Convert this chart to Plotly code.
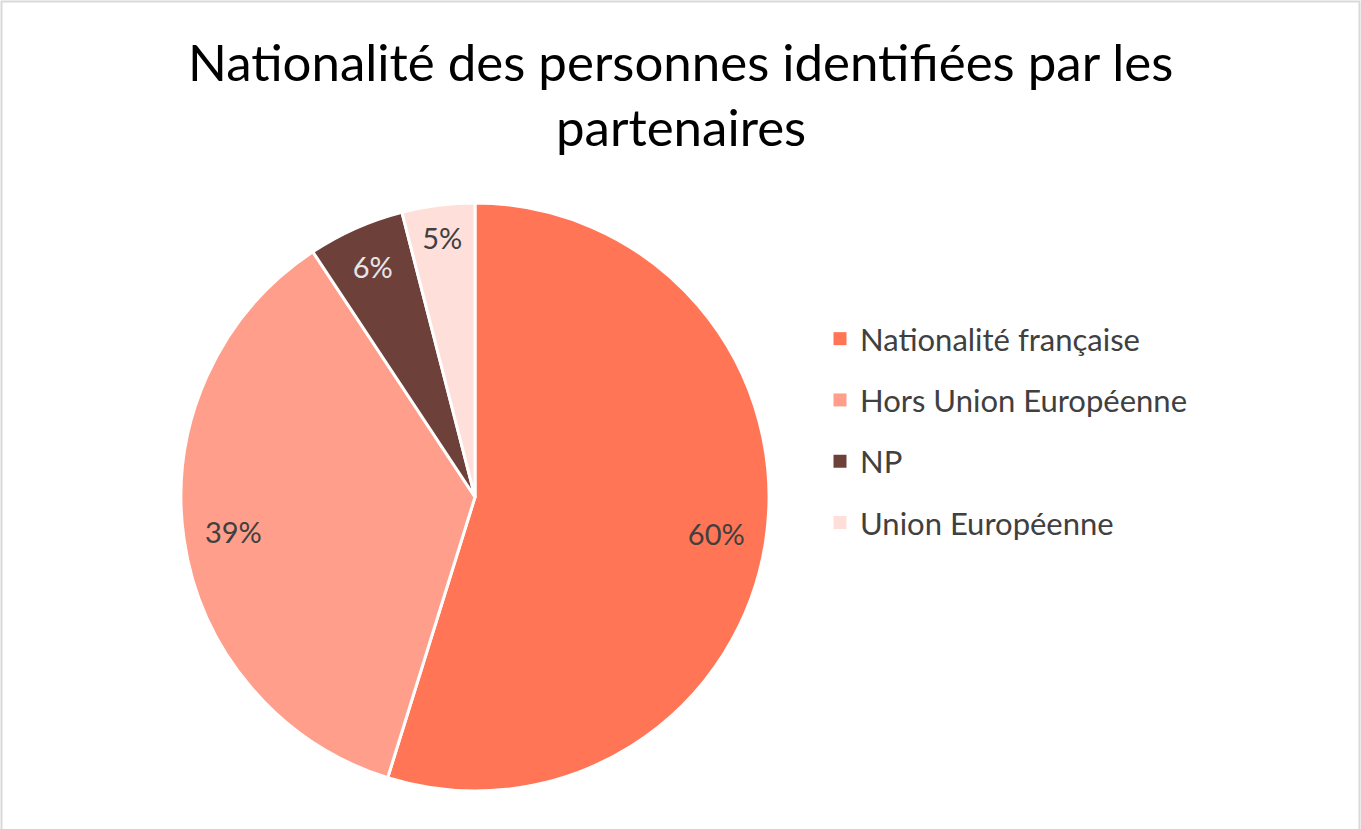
import plotly.graph_objects as go

categories = ["Nationalité française", "Hors Union Européenne", "NP", "Union Européenne"]
# slice sizes as drawn (share of the circle, %)
values = [54.8, 35.9, 5.3, 4.0]
# data labels as printed on the chart
labels_text = ["60%", "39%", "6%", "5%"]
colors = ["#FF7556", "#FF9F8B", "#6E403A", "#FFDFDA"]
text_colors = ["#404040", "#404040", "#E7E6E6", "#404040"]

title_line1 = "Nationalité des personnes identifiées par les"
title_line2 = "partenaires"

FONT = "Lato"
W, H = 1361, 829
pie_domain = dict(x=[(475 - 294) / W, (475 + 294) / W], y=[1 - 791 / H, 1 - 203 / H])

fig = go.Figure()

# slices
fig.add_trace(go.Pie(
    labels=categories, values=values,
    textinfo="none",
    marker=dict(colors=colors, line=dict(color="white", width=3)),
    sort=False, direction="clockwise", rotation=0,
    showlegend=False, hoverinfo="label+text", text=labels_text,
    domain=pie_domain,
))

# data labels placed in an outer ring (transparent overlay)
fig.add_trace(go.Pie(
    labels=categories, values=values,
    text=labels_text, textinfo="text", texttemplate="%{text}",
    textposition="inside", insidetextorientation="horizontal",
    textfont=dict(family=FONT, size=29, color=text_colors),
    marker=dict(colors=["rgba(0,0,0,0)"] * len(values), line=dict(width=0)),
    hole=0.66,
    sort=False, direction="clockwise", rotation=0,
    showlegend=False, hoverinfo="skip",
    domain=pie_domain,
))

for cat, col in zip(categories, colors):
    fig.add_trace(go.Scatter(
        x=[None], y=[None], mode="markers",
        marker=dict(symbol="square", size=13, color=col),
        name=cat, legendgroup=cat, showlegend=True,
    ))

fig.update_layout(
    width=W, height=H,
    margin=dict(l=0, r=0, t=0, b=0),
    paper_bgcolor="white", plot_bgcolor="white",
    xaxis=dict(visible=False), yaxis=dict(visible=False),
    legend=dict(
        x=820 / W, y=1 - 312 / H, xanchor="left", yanchor="top",
        font=dict(family=FONT, size=31, color="#404040"),
        tracegroupgap=18, bgcolor="rgba(0,0,0,0)",
    ),
    annotations=[
        dict(text=title_line1, x=680 / W, y=1 - 62 / H, xref="paper", yref="paper",
             showarrow=False, xanchor="center", yanchor="middle",
             font=dict(family=FONT, size=51, color="#000000")),
        dict(text=title_line2, x=681 / W, y=1 - 127 / H, xref="paper", yref="paper",
             showarrow=False, xanchor="center", yanchor="middle",
             font=dict(family=FONT, size=51, color="#000000")),
    ],
    shapes=[dict(type="rect", xref="paper", yref="paper",
                 x0=1.5 / W, x1=1359.5 / W, y0=-0.02, y1=1 - 1.5 / H,
                 line=dict(color="#D9D9D9", width=2))],
)

fig.write_html("out.html", config={"displayModeBar": False},
               post_script="document.body.style.margin='0';")
